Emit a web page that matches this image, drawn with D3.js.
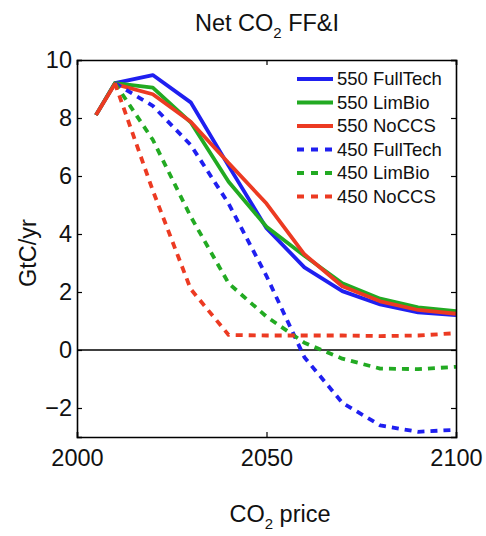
<!DOCTYPE html>
<html>
<head>
<meta charset="utf-8">
<script src="https://cdn.jsdelivr.net/npm/d3@7"></script>
<style>
    body { margin: 0; background: #fff; }
    text { font-family: "Liberation Sans", Arial, sans-serif; fill: #111; }
</style>
</head>
<body>
<svg id="chart"></svg>
<script>
// years on the x axis
var years = [2005, 2010, 2020, 2030, 2040, 2050, 2060, 2070, 2080, 2090, 2100];

// GtC/yr (null = no point)
var fullTech550 = [8.1, 9.2, 9.48, 8.54, 6.35, 4.2, 2.85, 2.03, 1.57, 1.3, 1.2];
var limBio550 = [8.1, 9.2, 9.05, 7.85, 5.8, 4.25, 3.25, 2.3, 1.77, 1.47, 1.34];
var noCCS550 = [8.1, 9.17, 8.82, 7.87, 6.45, 5.05, 3.3, 2.2, 1.68, 1.38, 1.25];
var fullTech450 = [null, 9.2, 8.42, 7.07, 5.05, 2.55, -0.25, -1.82, -2.6, -2.82, -2.75];
var limBio450 = [null, 9.2, 7.25, 4.6, 2.3, 1.15, 0.25, -0.3, -0.64, -0.66, -0.58];
var noCCS450 = [null, 9.2, 5.5, 2.1, 0.52, 0.5, 0.5, 0.5, 0.48, 0.5, 0.58];

var seriesNames = ["550 FullTech", "550 LimBio", "550 NoCCS", "450 FullTech", "450 LimBio", "450 NoCCS"];
var seriesValues = [fullTech550, limBio550, noCCS550, fullTech450, limBio450, noCCS450];

var xTicks = [2000, 2050, 2100];
var yTicks = [-2, 0, 2, 4, 6, 8, 10];

var dimensions = {
    width: 486,
    height: 536,
    margin: {
        top: 60,
        bottom: 99,
        right: 30,
        left: 77
    }
}

var colors = { blue: "#1f1ff0", green: "#22aa22", red: "#ec3a22" };
var lineColor = [colors.blue, colors.green, colors.red, colors.blue, colors.green, colors.red];

var svg = d3.select("#chart")
    .attr("width", dimensions.width)
    .attr("height", dimensions.height)

var x0 = dimensions.margin.left;
var x1 = dimensions.width - dimensions.margin.right;
var y0 = dimensions.height - dimensions.margin.bottom;
var y1 = dimensions.margin.top;

var xScale = d3.scaleLinear()
    .domain([2000, 2100])
    .range([x0, x1]);

var yScale = d3.scaleLinear()
    .domain([-3, 10])
    .range([y0, y1]);

// zero line
svg.append("line")
    .attr("x1", x0).attr("x2", x1)
    .attr("y1", yScale(0)).attr("y2", yScale(0))
    .attr("stroke", "#000")
    .attr("stroke-width", 1.5);

var line = d3.line()
    .defined(function(d) { return d.v !== null; })
    .x(function(d) { return xScale(d.year); })
    .y(function(d) { return yScale(d.v); });

var series = seriesNames.map(function(name, i) {
    return {
        name: name,
        color: lineColor[i],
        dashed: i >= 3,
        points: years.map(function(yr, j) { return { year: yr, v: seriesValues[i][j] }; })
    };
});

svg.append("g")
    .selectAll("path")
    .data(series)
    .enter()
    .append("path")
    .attr("d", function(d) { return line(d.points); })
    .attr("fill", "none")
    .attr("stroke", function(d) { return d.color; })
    .attr("stroke-width", 3.8)
    .attr("stroke-linejoin", "round")
    .attr("stroke-dasharray", function(d) { return d.dashed ? "7,6" : null; });

// axes: box with inward ticks on all sides
var tickLen = 5;
svg.append("g")
    .attr("transform", "translate(0," + y0 + ")")
    .call(d3.axisBottom(xScale).tickValues(xTicks).tickSize(-tickLen).tickPadding(12).tickFormat(d3.format("d")));
svg.append("g")
    .attr("transform", "translate(0," + y1 + ")")
    .call(d3.axisTop(xScale).tickValues(xTicks).tickSize(-tickLen).tickFormat(""));
svg.append("g")
    .attr("transform", "translate(" + x0 + ",0)")
    .call(d3.axisLeft(yScale).tickValues(yTicks).tickSize(-tickLen).tickPadding(5));
svg.append("g")
    .attr("transform", "translate(" + x1 + ",0)")
    .call(d3.axisRight(yScale).tickValues(yTicks).tickSize(-tickLen).tickFormat(""));

svg.selectAll(".domain").attr("stroke", "#000").attr("stroke-width", 1.6);
svg.selectAll(".tick line").attr("stroke", "#000").attr("stroke-width", 1.2);
svg.selectAll(".tick text")
    .style("font-family", "'Liberation Sans', Arial, sans-serif")
    .style("font-size", "23.5px")
    .attr("fill", "#111");

// title
var title = svg.append("text")
    .attr("x", 267)
    .attr("y", 31)
    .attr("text-anchor", "middle")
    .style("font-size", "23.5px");
title.append("tspan").text("Net CO");
title.append("tspan").attr("dy", 7).style("font-size", "15px").text("2");
title.append("tspan").attr("dy", -7).text(" FF&I");

// x label
var xLabel = svg.append("text")
    .attr("x", 280)
    .attr("y", 522)
    .attr("text-anchor", "middle")
    .style("font-size", "23.5px");
xLabel.append("tspan").text("CO");
xLabel.append("tspan").attr("dy", 7).style("font-size", "15px").text("2");
xLabel.append("tspan").attr("dy", -7).text(" price");

// y label
svg.append("text")
    .attr("transform", "translate(36," + 253 + ") rotate(-90)")
    .attr("text-anchor", "middle")
    .style("font-size", "23.5px")
    .text("GtC/yr");

// legend
var legend = svg.append("g")
    .selectAll("g")
    .data(series)
    .enter()
    .append("g")
    .attr("transform", function(d, i) { return "translate(297," + (79 + i * 23.5) + ")"; });

legend.append("line")
    .attr("x1", 0).attr("x2", 36)
    .attr("stroke", function(d) { return d.color; })
    .attr("stroke-width", 3.8)
    .attr("stroke-dasharray", function(d) { return d.dashed ? "7,7" : null; });

legend.append("text")
    .attr("x", 40)
    .attr("dy", "0.35em")
    .style("font-size", "18.5px")
    .text(function(d) { return d.name; });
</script>
</body>
</html>
